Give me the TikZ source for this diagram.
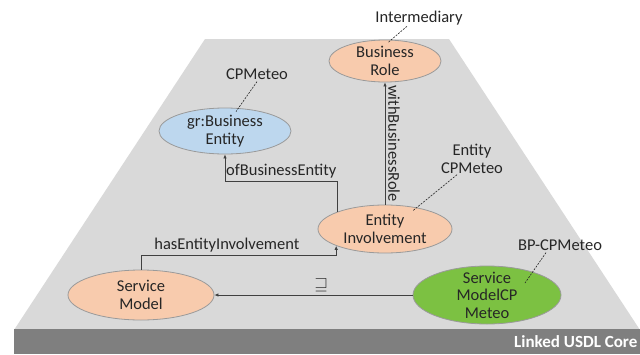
\documentclass[tikz,border=0pt]{standalone}
\usepackage{amssymb}
\usepackage{fontspec}
\setmainfont{Carlito}
\usetikzlibrary{shapes.geometric,arrows.meta}
\definecolor{bglight}{HTML}{D9D9D9}
\definecolor{banddark}{HTML}{7F7F7F}
\definecolor{peachc}{HTML}{F8CBAD}
\definecolor{bluec}{HTML}{BDD7EE}
\definecolor{greenc}{HTML}{7CC142}
\definecolor{outl}{HTML}{9A9A9A}
\definecolor{txt}{HTML}{262626}
\definecolor{lnc}{HTML}{404040}
\begin{document}
\begin{tikzpicture}[x=1pt,y=-1pt,
  every node/.style={text=txt},
  txtfont/.style={font=\fontsize{16.5}{17.5}\selectfont},
  ell/.style={ellipse, draw=outl, line width=0.8pt, inner xsep=0pt, inner ysep=-5pt, align=center, txtfont},
  peach/.style={ell, fill=peachc},
  conn/.style={draw=lnc, line width=0.7pt},
  arr/.style={conn, -{Latex[length=4pt,width=3.5pt]}},
  callout/.style={draw=txt, dash pattern=on 2pt off 1.2pt, line width=0.6pt},
  lbl/.style={txtfont, inner sep=0pt, align=center}]
\useasboundingbox (0,0) rectangle (640,354);
\clip (0,0) rectangle (640,354);
\fill[white] (0,0) rectangle (640,354);
\fill[bglight] (205,39) -- (449,39) -- (640,330) -- (14,330) -- cycle;
\fill[banddark] (14,329) rectangle (640,354);
\node[anchor=west, font=\fontsize{17}{18}\selectfont\bfseries, text=white, inner sep=0pt] (core) at (514,342) {Linked USDL Core};

% nodes
\node[peach, minimum width=112pt, minimum height=42pt] (br) at (385,61) {Business\\Role};
\node[ell, fill=bluec, minimum width=132pt, minimum height=46pt] (be) at (225,131) {gr:Business\\Entity};
\node[peach, minimum width=134pt, minimum height=48pt] (ei) at (385,229) {Entity\\Involvement};
\node[peach, minimum width=146pt, minimum height=50pt] (sm) at (141,295) {Service\\Model};
\node[ell, fill=greenc, inner ysep=-9pt, minimum width=148pt, minimum height=58pt] (gr) at (487,295) {Service\\ModelCP\\Meteo};

% callout labels
\node[lbl] (intm) at (419,18) {Intermediary};
\node[lbl] (cpm) at (257,74) {CPMeteo};
\node[lbl] (ecp) at (472,159) {Entity\\CPMeteo};
\node[lbl] (bpc) at (560,245) {BP-CPMeteo};
\draw[callout] ([xshift=-12pt,yshift=-1pt]intm.south) -- ([xshift=3pt,yshift=-3pt]br.north);
\draw[callout] ([yshift=-2pt]cpm.south) -- ([xshift=11pt,yshift=-4pt]be.north);
\draw[callout] ([xshift=-15pt,yshift=-1pt]ecp.south) -- ([xshift=28pt,yshift=-6pt]ei.north);
\draw[callout] ([xshift=-14pt,yshift=-2pt]bpc.south) -- ([xshift=38pt,yshift=12pt]gr.center);

% connectors
\draw[arr] (ei.north) -- node[midway, rotate=-90, anchor=south, lbl, inner sep=3pt] {withBusinessRole} (br.south);
\draw[arr] (ei.160.8) -- ++(0,-30) -| node[pos=0.25, anchor=south, lbl, inner sep=3pt] {ofBusinessEntity} (be.south);
\draw[arr] (sm.north) -- ++(0,-14) -| node[pos=0.22, anchor=south, lbl, inner sep=3pt] {hasEntityInvolvement} (ei.199.2);
\draw[arr] (gr.west) -- node[pos=0.46, anchor=south, inner sep=3pt, font=\fontsize{16}{17}\selectfont] {$\sqsupseteq$} (sm.east);
\end{tikzpicture}
\end{document}
